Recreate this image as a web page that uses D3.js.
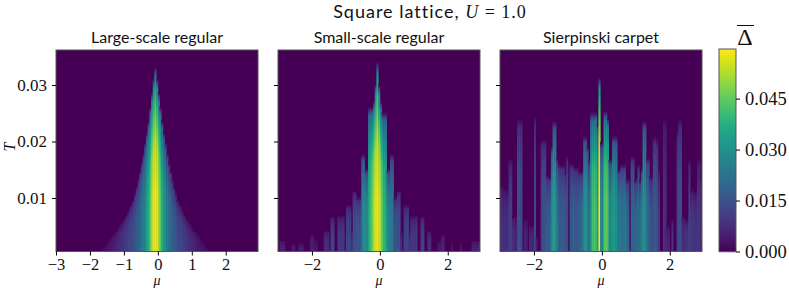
<!DOCTYPE html>
<html>
<head>
<meta charset="utf-8">
<script src="https://cdn.jsdelivr.net/npm/d3@7"></script>
<style>
  html, body { margin: 0; padding: 0; background: #fff; }
  svg { display: block; }
  .tick text { font-family: "Liberation Serif", serif; fill: #111; }
  .sans { font-family: Lato, sans-serif; fill: #111; }
  .math { font-family: "Liberation Serif", serif; fill: #111; }
</style>
</head>
<body>
<svg id="chart" width="789" height="288">
  <defs>
    <filter id="soft" x="0" y="0" width="100%" height="100%"><feGaussianBlur stdDeviation="0.6 0.5"/></filter>
  </defs>
</svg>
<script>
// one column every 0.05 in mu, from -3 to 2.95
const muValues = d3.range(120).map(i => -3 + i * 0.05);
const muTicksLeft = [-3, -2, -1, 0, 1, 2];
const muTicks = [-2, 0, 2];
const tTicks = [0.01, 0.02, 0.03];
const barTicks = [0, 0.015, 0.03, 0.045];

// top of each column (T, in units of 1e-3) and its value at the lowest T (in units of 1e-3)
const largeTc = [
  0,0,0,0,0,0,0,0,0,0, 0,0,0,0,0,0,0,0,0,0,
  0,0,0,0,0,0,.7,1,1.3,1.7, 2.1,2.5,2.9,3.3,3.8,4.1,4.5,4.9,5.3,5.8,
  6.3,6.9,7.5,8.2,8.8,9.5,10.7,11.9,13.2,14.7, 16.2,17.8,19.7,21.5,23.5,26,28.5,31,33,31,
  28.5,26,23.5,21.5,19.7,17.8,16.2,14.7,13.2,11.9, 10.7,9.5,8.8,8.2,7.5,6.9,6.3,5.8,5.3,4.9,
  4.5,4.1,3.8,3.3,2.9,2.5,2.1,1.7,1.3,1, .7,0,0,0,0,0,0,0,0,0,
  0,0,0,0,0,0,0,0,0,0, 0,0,0,0,0,0,0,0,0,0];
const largePeak = [
  0,0,0,0,0,0,0,0,0,0, 0,0,0,0,0,0,0,0,0,0,
  0,0,0,0,0,0,1,1.5,2,2.5, 3,3.5,4,4.7,5.5,6.2,7,7.7,8.5,9.2,
  10,11,12,12.7,13.5,14.8,16,17.5,19,21, 23,26,29,33,38,45,52,58,59,58,
  52,45,38,33,29,26,23,21,19,17.5, 16,14.8,13.5,12.7,12,11,10,9.2,8.5,7.7,
  7,6.2,5.5,4.7,4,3.5,3,2.5,2,1.5, 1,0,0,0,0,0,0,0,0,0,
  0,0,0,0,0,0,0,0,0,0, 0,0,0,0,0,0,0,0,0,0];

const smallTc = [
  0,2.2,2.2,2.2,0,0,0,0,1.7,1.7, 0,0,1.7,1.7,1.7,0,0,0,0,3.3,
  3.3,2.5,2.5,0,0,0,0,4,4,4, 0,6.5,6.5,0,0,6.7,6.7,6.7,6.7,0,
  8.6,8.6,8.6,4,11.2,11.2,10,10,10,17.6, 17.6,15,15,26,26,26,27,30,33.9,30,
  27,25,25,25,15,15,17.6,17.6,10,10, 11.2,11.2,4,0,8.6,8.6,8.6,4,6.7,6.7,
  6.7,6.7,0,0,6.5,6.5,0,0,4,4, 0,0,0,0,2.2,2.2,3.3,3.3,0,0,
  0,0,1.7,0,0,0,0,1.7,0,0, 0,0,0,0,2.2,2.2,2.2,2.2,2.2,0];
const smallPeak = [
  0,6,6,6,0,0,0,0,4,4, 0,0,5,5,5,0,0,0,0,6,
  6,4,4,0,0,0,0,8,8,8, 0,12,12,0,0,10,10,10,10,0,
  12,12,12,8,15,15,16,16,16,25, 30,30,30,35,42,47,53,57,59,56,
  52,44,40,35,30,27,25,25,16,16, 15,15,8,0,12,12,12,8,10,10,
  10,10,0,0,12,12,0,0,8,8, 0,0,0,0,5,5,6,6,0,0,
  0,0,4,0,0,0,0,4,0,0, 0,0,0,0,6,6,6,6,6,0];

const carpetTc = [
  12,12,11.4,11.4,11,16.7,16.7,6.6,6.6,6.6, 23.8,23.8,23.8,0,6.1,6.1,0,4.9,4.9,5,
  24.3,3,0,0,20.3,20.3,20.3,14,13.7,13.7, 19,23.4,23.4,17,16,15.8,15.8,15.8,14.5,17.3,
  0,16,16,15.5,15.3,15.3,14.6,14.6,14.6,20.8, 20.8,19,16.7,25,25,25,25,23,31.2,19.7,
  19.7,25.2,25.2,24,16.7,16.7,20.8,20.8,20.8,15, 15,15.8,15.8,15.8,13.2,13.2,0,17.3,17.3,13.2,
  13.2,15.8,13,15,23.5,23.5,17,17,13.7,13.7, 20.8,20.8,20.2,15,0,0,24,24,5,5,
  0,6,0,0,22,23.8,23.8,6.5,6.5,6, 6,16.7,11.4,11.4,11,11,16.7,16.7,14,12];
const carpetPeak = [
  8,8,8,8,8,11,12,8,8,6, 14,15,14,0,6,6,0,7,7,6,
  13,5,0,0,13,15,16,17,18,20, 27,35,33,25,20,17,17,18,16,15,
  0,17,18,18,17,18,18,20,22,30, 32,28,22,30,42,43,42,33,59,28,
  28,44,46,42,28,30,32,33,30,25, 24,24,24,24,22,20,0,20,20,20,
  20,22,22,26,32,30,22,20,17,15, 16,17,16,10,0,0,9,7,7,6,
  0,9,0,0,12,15,14,8,8,9, 9,12,10,10,9,9,9,9,8,7];

const fadeAt = [0, 0.35, 0.6, 0.8, 0.94, 1];
const fadeValue = [1, 0.99, 0.92, 0.72, 0.5, 0];

const panels = [
  { title: "Large-scale regular", left: 56, tc: largeTc, peak: largePeak, ticks: muTicksLeft, showT: true },
  { title: "Small-scale regular", left: 278, tc: smallTc, peak: smallPeak, ticks: muTicks, showT: false },
  { title: "Sierpinski carpet", left: 500, tc: carpetTc, peak: carpetPeak, ticks: muTicks, showT: false }
];

const panelW = 202, plotTop = 50, plotBottom = 251.5;
const maxDelta = 0.0596;
const y = d3.scaleLinear().domain([0.00053, 0.0362]).range([plotBottom, plotTop]);
const colour = d3.scaleSequential(d3.interpolateViridis).domain([0, maxDelta]);
const fade = d3.scaleLinear().domain(fadeAt).range(fadeValue);
const tRows = d3.range(101).map(i => 0.00053 + i * (0.0362 - 0.00053) / 101);
const rowH = (plotBottom - plotTop) / 101;

const svg = d3.select("#chart");

panels.forEach((p, n) => {
  const x = d3.scaleLinear().domain([-3, 2.95]).range([p.left, p.left + panelW]);
  const g = svg.append("g");

  svg.select("defs").append("clipPath").attr("id", "clip" + n).append("rect")
    .attr("x", p.left).attr("y", plotTop).attr("width", panelW).attr("height", plotBottom - plotTop);

  const heat = g.append("g").attr("clip-path", `url(#clip${n})`).append("g").attr("filter", "url(#soft)");

  heat.append("rect").attr("x", p.left - 5).attr("y", plotTop - 5)
    .attr("width", panelW + 10).attr("height", plotBottom - plotTop + 10).attr("fill", colour(0));

  const cells = [];
  muValues.forEach((mu, i) => {
    const tc = p.tc[i] * 1e-3;
    if (tc === 0) return;
    tRows.forEach(t => {
      if (t < tc) cells.push({ mu, t, v: p.peak[i] * 1e-3 * fade(t / tc) });
    });
  });

  heat.selectAll("rect.cell").data(cells).join("rect")
    .attr("class", "cell")
    .attr("x", d => x(d.mu))
    .attr("y", d => y(d.t) - rowH)
    .attr("width", x(-2.95) - x(-3) + 0.4)
    .attr("height", rowH + 0.4)
    .attr("fill", d => colour(d.v));

  g.append("rect").attr("x", p.left).attr("y", plotTop)
    .attr("width", panelW).attr("height", plotBottom - plotTop)
    .attr("fill", "none").attr("stroke", "#555");

  const xAxis = d3.axisBottom(x).tickValues(p.ticks).tickSize(4).tickSizeOuter(0)
    .tickFormat(d => String(d).replace("-", "\u2212"));
  const ax = g.append("g").attr("transform", `translate(0,${plotBottom})`).call(xAxis);
  ax.select(".domain").remove();
  ax.selectAll("text").attr("font-size", 16.5).attr("y", 6.5);

  const yAxis = d3.axisLeft(y).tickValues(tTicks).tickSize(4).tickSizeOuter(0)
    .tickFormat(d => p.showT ? d3.format(".2f")(d) : "");
  const ay = g.append("g").attr("transform", `translate(${p.left},0)`).call(yAxis);
  ay.select(".domain").remove();
  ay.selectAll("text").attr("font-size", 17).attr("x", -9);

  g.append("text").attr("class", "sans").attr("x", p.left + panelW / 2).attr("y", 43)
    .attr("text-anchor", "middle").attr("font-size", 16).text(p.title);

  g.append("text").attr("class", "math").attr("x", p.left + panelW / 2).attr("y", 285)
    .attr("text-anchor", "middle").attr("font-size", 14).attr("font-style", "italic").text("\u03bc");
});

// T label
svg.append("text").attr("class", "math")
  .attr("transform", "translate(15,147) rotate(-90)")
  .attr("text-anchor", "middle").attr("font-size", 16).attr("font-style", "italic").text("T");

// colour bar
const barX = 719, barW = 17, barTop = 49;
const barY = d3.scaleLinear().domain([0, maxDelta]).range([plotBottom, barTop]);
const bar = svg.append("g");
bar.selectAll("rect").data(d3.range(0, plotBottom - barTop)).join("rect")
  .attr("x", barX).attr("y", d => barTop + d).attr("width", barW).attr("height", 1.2)
  .attr("fill", d => colour(barY.invert(barTop + d + 0.5)));
bar.append("rect").attr("x", barX).attr("y", barTop)
  .attr("width", barW).attr("height", plotBottom - barTop)
  .attr("fill", "none").attr("stroke", "#555");
const barAxis = svg.append("g").attr("transform", `translate(${barX + barW},0)`)
  .call(d3.axisRight(barY).tickValues(barTicks).tickSize(4).tickSizeOuter(0).tickFormat(d3.format(".3f")));
barAxis.select(".domain").remove();
barAxis.selectAll("text").attr("font-size", 18.5).attr("x", 9);

// colour bar label
svg.append("text").attr("class", "math").attr("x", 745).attr("y", 45)
  .attr("text-anchor", "middle").attr("font-size", 24).text("\u0394");
svg.append("line").attr("x1", 737).attr("x2", 754).attr("y1", 25.5).attr("y2", 25.5)
  .attr("stroke", "#111").attr("stroke-width", 1);

// super title
const sup = svg.append("text").attr("x", 430).attr("y", 18).attr("text-anchor", "middle")
  .attr("font-size", 18).attr("letter-spacing", 1);
sup.append("tspan").attr("class", "sans").text("Square lattice, ");
sup.append("tspan").attr("class", "math").attr("font-style", "italic").text("U");
sup.append("tspan").attr("class", "math").text(" = 1.0");
</script>
</body>
</html>
